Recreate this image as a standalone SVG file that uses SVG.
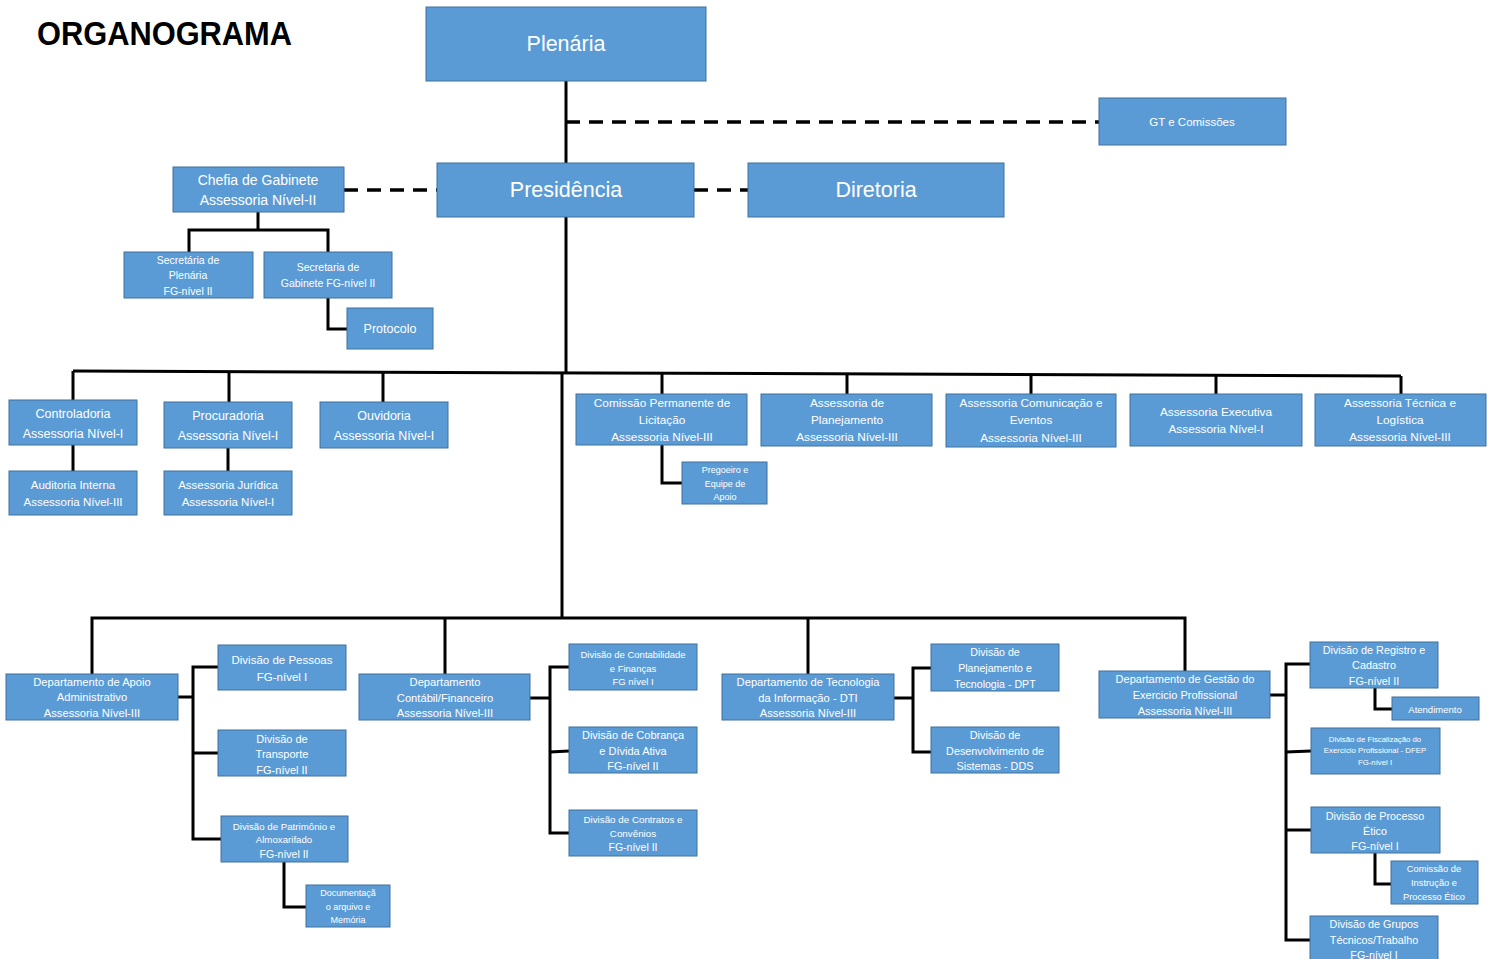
<svg xmlns="http://www.w3.org/2000/svg" width="1495" height="959" viewBox="0 0 1495 959">
<style>
.b{fill:#5B9BD5;stroke:#41719C;stroke-width:1}
text{font-family:"Liberation Sans",Arial,sans-serif;fill:#fff;text-anchor:middle;dominant-baseline:central}
.c{fill:none;stroke:#000;stroke-width:3}
.d{fill:none;stroke:#000;stroke-width:3.5;stroke-dasharray:14 9}
.title{font-weight:bold;fill:#000;text-anchor:start;dominant-baseline:auto}
</style>
<rect width="1495" height="959" fill="#fff"/>
<text class="title" x="37" y="45" font-size="33" textLength="255" lengthAdjust="spacingAndGlyphs">ORGANOGRAMA</text>

<g id="connectors">
<line class="c" x1="566" y1="81" x2="566" y2="163"/>
<line class="d" x1="566" y1="122" x2="1099" y2="122"/>
<line class="d" x1="344" y1="190" x2="437" y2="190"/>
<line class="d" x1="694" y1="190" x2="748" y2="190"/>
<polyline class="c" points="258,212 258,230"/>
<polyline class="c" points="189,252 189,230 328,230 328,252"/>
<polyline class="c" points="328,298 328,329 347,329"/>
<line class="c" x1="566" y1="217" x2="566" y2="373"/>
<line class="c" x1="562" y1="372" x2="562" y2="618"/>
<line class="c" x1="73" y1="371" x2="1401" y2="376"/>
<line class="c" x1="73" y1="371" x2="73" y2="400"/>
<line class="c" x1="229" y1="371" x2="229" y2="402"/>
<line class="c" x1="383" y1="372" x2="383" y2="402"/>
<line class="c" x1="662" y1="373" x2="662" y2="394"/>
<line class="c" x1="847" y1="374" x2="847" y2="394"/>
<line class="c" x1="1031" y1="375" x2="1031" y2="394"/>
<line class="c" x1="1216" y1="375" x2="1216" y2="394"/>
<line class="c" x1="1401" y1="376" x2="1401" y2="394"/>
<line class="c" x1="73" y1="445" x2="73" y2="471"/>
<line class="c" x1="228" y1="448" x2="228" y2="471"/>
<polyline class="c" points="662,445 662,483 682,483"/>
<polyline class="c" points="92,674 92,618 1185,618 1185,671"/>
<line class="c" x1="445" y1="618" x2="445" y2="674"/>
<line class="c" x1="808" y1="618" x2="808" y2="674"/>
<line class="c" x1="178" y1="697" x2="193" y2="697"/>
<polyline class="c" points="218,667 193,667 193,839 221,839"/>
<line class="c" x1="193" y1="753" x2="218" y2="753"/>
<polyline class="c" points="284,862 284,907 306,907"/>
<line class="c" x1="530" y1="698" x2="550" y2="698"/>
<polyline class="c" points="569,667 550,667 550,833 569,833"/>
<line class="c" x1="550" y1="752" x2="569" y2="751"/>
<line class="c" x1="894" y1="698" x2="913" y2="698"/>
<polyline class="c" points="931,668 913,668 913,752 931,752"/>
<line class="c" x1="1270" y1="695" x2="1286" y2="695"/>
<polyline class="c" points="1310,664 1286,664 1286,940 1310,940"/>
<line class="c" x1="1286" y1="752" x2="1311" y2="751"/>
<line class="c" x1="1286" y1="830" x2="1311" y2="830"/>
<polyline class="c" points="1375,688 1375,709 1392,709"/>
<polyline class="c" points="1375,853 1375,884 1391,884"/>
</g>

<g id="plenaria"><rect class="b" x="426" y="7" width="280" height="74"/><text x="566" y="44" font-size="21.5">Plenária</text></g>
<g id="gt-comissoes"><rect class="b" x="1099" y="98" width="187" height="47"/><text x="1192" y="122" font-size="11.5">GT e Comissões</text></g>
<g id="presidencia"><rect class="b" x="437" y="163" width="257" height="54"/><text x="566" y="190" font-size="21.5">Presidência</text></g>
<g id="diretoria"><rect class="b" x="748" y="163" width="256" height="54"/><text x="876" y="190" font-size="21.5">Diretoria</text></g>
<g id="chefia"><rect class="b" x="173" y="167" width="171" height="45"/><text x="258" y="180" font-size="14">Chefia de Gabinete</text><text x="258" y="200" font-size="14">Assessoria Nível-II</text></g>
<g id="sec-plenaria"><rect class="b" x="124" y="252" width="129" height="46"/><text x="188" y="260" font-size="10.5">Secretária de</text><text x="188" y="275" font-size="10.5">Plenária</text><text x="188" y="291" font-size="10.5">FG-nível II</text></g>
<g id="sec-gabinete"><rect class="b" x="264" y="252" width="128" height="46"/><text x="328" y="267" font-size="10.5">Secretaria de</text><text x="328" y="283" font-size="10.5">Gabinete FG-nível II</text></g>
<g id="protocolo"><rect class="b" x="347" y="308" width="86" height="41"/><text x="390" y="329" font-size="12.5">Protocolo</text></g>

<g id="controladoria"><rect class="b" x="9" y="400" width="128" height="45"/><text x="73" y="414" font-size="12.5">Controladoria</text><text x="73" y="434" font-size="12.5">Assessoria Nível-I</text></g>
<g id="auditoria"><rect class="b" x="9" y="471" width="128" height="44"/><text x="73" y="485" font-size="11.5">Auditoria Interna</text><text x="73" y="502" font-size="11.5">Assessoria Nível-III</text></g>
<g id="procuradoria"><rect class="b" x="164" y="402" width="128" height="46"/><text x="228" y="416" font-size="12.5">Procuradoria</text><text x="228" y="436" font-size="12.5">Assessoria Nível-I</text></g>
<g id="juridica"><rect class="b" x="164" y="471" width="128" height="44"/><text x="228" y="485" font-size="11.5">Assessoria Jurídica</text><text x="228" y="502" font-size="11.5">Assessoria Nível-I</text></g>
<g id="ouvidoria"><rect class="b" x="320" y="402" width="128" height="46"/><text x="384" y="416" font-size="12.5">Ouvidoria</text><text x="384" y="436" font-size="12.5">Assessoria Nível-I</text></g>
<g id="cpl"><rect class="b" x="576" y="394" width="171" height="51"/><text x="662" y="403" font-size="11.8">Comissão Permanente de</text><text x="662" y="420" font-size="11.8">Licitação</text><text x="662" y="437" font-size="11.8">Assessoria Nível-III</text></g>
<g id="pregoeiro"><rect class="b" x="682" y="462" width="85" height="42"/><text x="725" y="470" font-size="9">Pregoeiro e</text><text x="725" y="484" font-size="9">Equipe de</text><text x="725" y="497" font-size="9">Apoio</text></g>
<g id="ass-planejamento"><rect class="b" x="761" y="394" width="171" height="52"/><text x="847" y="403" font-size="11.8">Assessoria de</text><text x="847" y="420" font-size="11.8">Planejamento</text><text x="847" y="437" font-size="11.8">Assessoria Nível-III</text></g>
<g id="ass-comunicacao"><rect class="b" x="946" y="394" width="170" height="53"/><text x="1031" y="403" font-size="11.8">Assessoria Comunicação e</text><text x="1031" y="420" font-size="11.8">Eventos</text><text x="1031" y="438" font-size="11.8">Assessoria Nível-III</text></g>
<g id="ass-executiva"><rect class="b" x="1130" y="394" width="172" height="52"/><text x="1216" y="412" font-size="11.8">Assessoria Executiva</text><text x="1216" y="429" font-size="11.8">Assessoria Nível-I</text></g>
<g id="ass-tecnica"><rect class="b" x="1315" y="394" width="171" height="52"/><text x="1400" y="403" font-size="11.8">Assessoria Técnica e</text><text x="1400" y="420" font-size="11.8">Logística</text><text x="1400" y="437" font-size="11.8">Assessoria Nível-III</text></g>

<g id="dep-apoio"><rect class="b" x="6" y="674" width="172" height="46"/><text x="92" y="682" font-size="11.2">Departamento de Apoio</text><text x="92" y="697" font-size="11.2">Administrativo</text><text x="92" y="713" font-size="11.2">Assessoria Nível-III</text></g>
<g id="div-pessoas"><rect class="b" x="218" y="645" width="128" height="45"/><text x="282" y="660" font-size="11.5">Divisão de Pessoas</text><text x="282" y="677" font-size="11.5">FG-nível I</text></g>
<g id="div-transporte"><rect class="b" x="218" y="730" width="128" height="46"/><text x="282" y="739" font-size="11">Divisão de</text><text x="282" y="754" font-size="11">Transporte</text><text x="282" y="770" font-size="11">FG-nível II</text></g>
<g id="div-patrimonio"><rect class="b" x="221" y="816" width="127" height="46"/><text x="284" y="826" font-size="9.7">Divisão de Patrimônio e</text><text x="284" y="839" font-size="9.7">Almoxarifado</text><text x="284" y="854" font-size="10.5">FG-nível II</text></g>
<g id="documentacao"><rect class="b" x="306" y="885" width="84" height="42"/><text x="348" y="893" font-size="9">Documentaçã</text><text x="348" y="907" font-size="9">o arquivo e</text><text x="348" y="920" font-size="9">Memória</text></g>

<g id="dep-contabil"><rect class="b" x="359" y="674" width="171" height="46"/><text x="445" y="682" font-size="11.2">Departamento</text><text x="445" y="698" font-size="11.2">Contábil/Financeiro</text><text x="445" y="713" font-size="11.2">Assessoria Nível-III</text></g>
<g id="div-contabilidade"><rect class="b" x="569" y="644" width="128" height="46"/><text x="633" y="654" font-size="9.5">Divisão de Contabilidade</text><text x="633" y="668" font-size="9.5">e Finanças</text><text x="633" y="681" font-size="9.5">FG nível I</text></g>
<g id="div-cobranca"><rect class="b" x="569" y="727" width="128" height="46"/><text x="633" y="735" font-size="11">Divisão de Cobrança</text><text x="633" y="751" font-size="11">e Dívida Ativa</text><text x="633" y="766" font-size="11">FG-nível II</text></g>
<g id="div-contratos"><rect class="b" x="569" y="810" width="128" height="46"/><text x="633" y="819" font-size="9.8">Divisão de Contratos e</text><text x="633" y="833" font-size="9.8">Convênios</text><text x="633" y="847" font-size="10.5">FG-nível II</text></g>

<g id="dep-ti"><rect class="b" x="722" y="674" width="172" height="46"/><text x="808" y="682" font-size="11.2">Departamento de Tecnologia</text><text x="808" y="698" font-size="11.2">da Informação - DTI</text><text x="808" y="713" font-size="11.2">Assessoria Nível-III</text></g>
<g id="div-dpt"><rect class="b" x="931" y="644" width="128" height="47"/><text x="995" y="652" font-size="10.6">Divisão de</text><text x="995" y="668" font-size="10.6">Planejamento e</text><text x="995" y="684" font-size="10.6">Tecnologia - DPT</text></g>
<g id="div-dds"><rect class="b" x="931" y="727" width="128" height="46"/><text x="995" y="735" font-size="10.8">Divisão de</text><text x="995" y="751" font-size="10.8">Desenvolvimento de</text><text x="995" y="766" font-size="10.8">Sistemas - DDS</text></g>

<g id="dep-gestao"><rect class="b" x="1099" y="671" width="171" height="47"/><text x="1185" y="679" font-size="11">Departamento de Gestão do</text><text x="1185" y="695" font-size="11">Exercicio Profissional</text><text x="1185" y="711" font-size="11">Assessoria Nível-III</text></g>
<g id="div-registro"><rect class="b" x="1310" y="642" width="128" height="46"/><text x="1374" y="650" font-size="10.8">Divisão de Registro e</text><text x="1374" y="665" font-size="10.8">Cadastro</text><text x="1374" y="681" font-size="10.8">FG-nível II</text></g>
<g id="atendimento"><rect class="b" x="1392" y="697" width="87" height="23"/><text x="1435" y="709" font-size="9.5">Atendimento</text></g>
<g id="div-fiscalizacao"><rect class="b" x="1311" y="728" width="129" height="46"/><text x="1375" y="739" font-size="7.8">Divisão de Fiscalização do</text><text x="1375" y="750" font-size="7.8">Exercício Profissional - DFEP</text><text x="1375" y="762" font-size="7.8">FG-nível I</text></g>
<g id="div-processo-etico"><rect class="b" x="1311" y="807" width="129" height="46"/><text x="1375" y="816" font-size="10.8">Divisão de Processo</text><text x="1375" y="831" font-size="10.8">Ético</text><text x="1375" y="846" font-size="10.8">FG-nível I</text></g>
<g id="comissao-instrucao"><rect class="b" x="1391" y="861" width="87" height="43"/><text x="1434" y="869" font-size="9.3">Comissão de</text><text x="1434" y="883" font-size="9.3">Instrução e</text><text x="1434" y="897" font-size="9.3">Processo Ético</text></g>
<g id="div-grupos"><rect class="b" x="1310" y="916" width="128" height="50"/><text x="1374" y="924" font-size="10.8">Divisão de Grupos</text><text x="1374" y="940" font-size="10.8">Técnicos/Trabalho</text><text x="1374" y="955" font-size="10.8">FG-nível I</text></g>
</svg>
